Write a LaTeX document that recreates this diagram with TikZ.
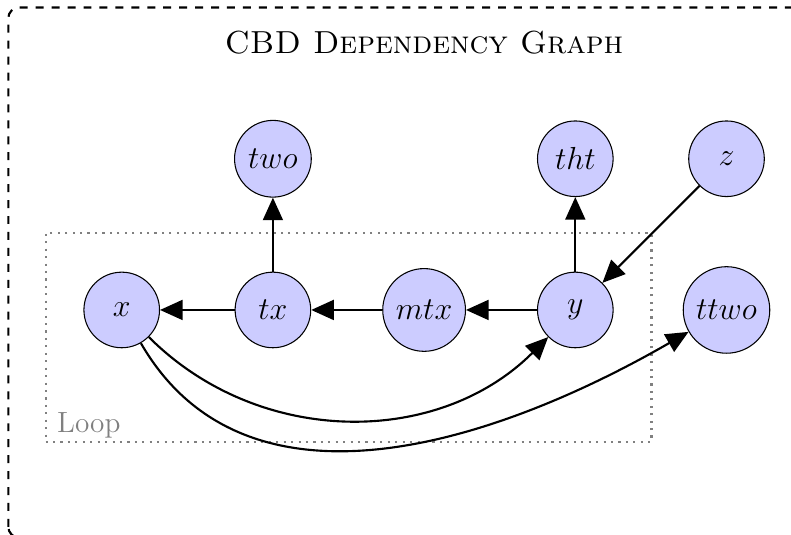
\documentclass[tikz,border=0pt]{standalone}
\usetikzlibrary{arrows.meta}
\begin{document}
\begin{tikzpicture}[
  vertex/.style={circle, draw=black, fill=blue!20, minimum size=1cm, inner sep=3.33pt, font=\fontsize{11.5}{13}\selectfont},
  edge/.style={thick, -{Triangle[length=8.5pt,width=7.5pt]}},
  frame/.style={thick, dashed, rounded corners=4pt},
  loopbox/.style={draw=gray, thick, dash pattern=on 0.8pt off 2pt, minimum width=8.014cm, minimum height=2.76cm, inner sep=0pt},
  looplabel/.style={text=gray, anchor=base west, inner sep=0pt, font=\fontsize{11}{13}\selectfont},
]
\useasboundingbox (-1.61,-2.976) rectangle (8.853,4.10);
\clip (-1.61,-2.976) rectangle (8.853,4.10);
\draw[frame] (-1.5,-3.01) rectangle (9.5,4);
\node[anchor=base, inner sep=0pt] (title) at (4,3.39) {\fontsize{12}{14}\selectfont\textsc{CBD Dependency Graph}};
\node[loopbox] (loop) at (3,-0.364) {};
\node[looplabel] (looptext) at (-0.86,-1.616) {Loop};
\node[vertex] (x) at (0,0) {$x$};
\node[vertex] (tx) at (2,0) {$tx$};
\node[vertex] (mtx) at (4,0) {$mtx$};
\node[vertex] (y) at (6,0) {$y$};
\node[vertex] (ttwo) at (8,0) {$ttwo$};
\node[vertex] (two) at (2,2) {$two$};
\node[vertex] (tht) at (6,2) {$tht$};
\node[vertex] (z) at (8,2) {$z$};
\draw[edge] (tx) -- (x);
\draw[edge] (mtx) -- (tx);
\draw[edge] (y) -- (mtx);
\draw[edge] (tx) -- (two);
\draw[edge] (y) -- (tht);
\draw[edge] (z) -- (y);
\draw[edge] (x) to[out=-45,in=-135] (y);
\draw[edge] (x) to[out=-60,in=210] (ttwo);
\end{tikzpicture}
\end{document}
